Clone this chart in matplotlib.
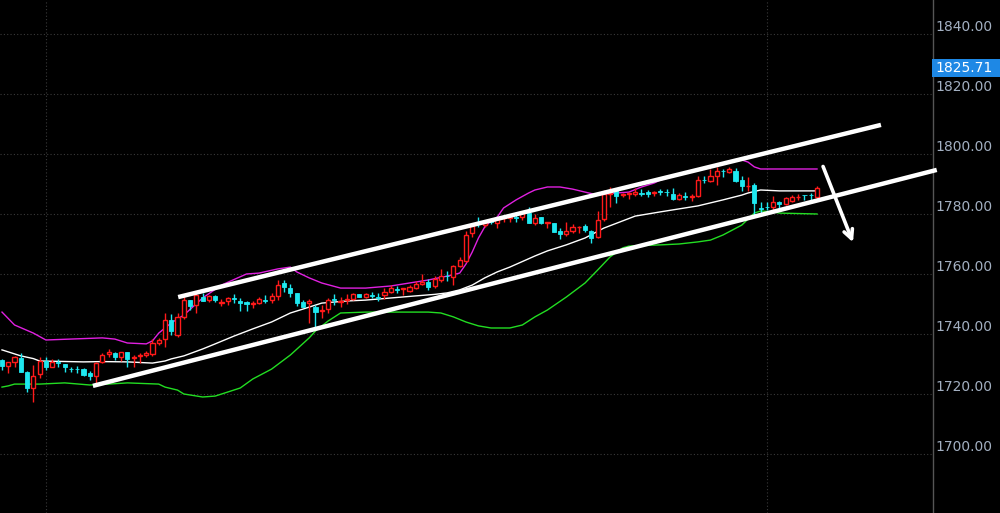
import numpy as np
import matplotlib
matplotlib.use('Agg')
import matplotlib.pyplot as plt
from matplotlib.patches import Rectangle
import matplotlib.transforms as mtransforms

# candle data (one entry per bar)
opens = [
    1731.4, 1729.4, 1730.7, 1732.1, 1727.4, 1722.1, 1726.8, 1731.1, 1729.1, 1730.8,
    1730.1, 1728.5, 1728.5, 1728.4, 1727.1, 1726.1, 1730.8, 1733.4, 1733.8, 1732.4,
    1734.1, 1732.1, 1732.7, 1733.1, 1733.4, 1737.1, 1738.4, 1744.8, 1739.8, 1745.8,
    1751.4, 1749.8, 1752.4, 1751.4, 1752.8, 1750.4, 1751.1, 1752.1, 1751.1, 1750.8,
    1750.1, 1750.4, 1751.4, 1751.4, 1752.8, 1757.1, 1755.4, 1753.8, 1750.8, 1750.4,
    1749.1, 1747.8, 1748.4, 1751.8, 1750.8, 1751.4, 1751.8, 1753.4, 1752.4, 1753.1,
    1752.4, 1753.1, 1754.1, 1755.1, 1755.1, 1754.4, 1755.4, 1756.8, 1757.4, 1756.1,
    1758.1, 1759.4, 1759.1, 1762.8, 1764.4, 1773.8, 1776.8, 1776.4, 1777.8, 1777.1,
    1778.9, 1778.8, 1779.1, 1779.1, 1780.4, 1777.1, 1779.1, 1777.1, 1777.1, 1774.4,
    1773.4, 1774.4, 1775.6, 1776.1, 1774.4, 1772.4, 1778.4, 1786.8, 1788.1, 1786.4,
    1786.8, 1786.8, 1787.1, 1787.4, 1787.1, 1787.6, 1787.4, 1786.8, 1785.1, 1786.1,
    1785.8, 1786.1, 1791.4, 1791.1, 1792.8, 1794.4, 1794.1, 1794.4, 1791.4, 1789.3,
    1789.8, 1782.1, 1782.4, 1782.4, 1784.1, 1783.4, 1784.4, 1785.6, 1786.4, 1786.4,
    1785.8]
closes = [
    1729.4, 1730.7, 1732.4, 1727.4, 1722.1, 1726.1, 1731.1, 1729.1, 1730.8, 1730.4,
    1729.1, 1728.3, 1728.3, 1726.4, 1726.1, 1730.4, 1733.1, 1734.1, 1732.4, 1734.1,
    1731.8, 1732.4, 1733.1, 1733.8, 1737.1, 1738.1, 1744.8, 1741.1, 1745.8, 1751.4,
    1749.4, 1753.1, 1751.1, 1752.8, 1751.4, 1750.8, 1752.1, 1751.8, 1750.4, 1750.2,
    1750.4, 1751.8, 1751.2, 1752.8, 1756.4, 1755.8, 1753.8, 1750.4, 1749.1, 1751.1,
    1747.4, 1748.1, 1751.4, 1751.4, 1751.1, 1751.8, 1753.4, 1752.4, 1753.4, 1752.9,
    1752.2, 1754.1, 1755.4, 1754.9, 1755.3, 1755.8, 1756.8, 1757.4, 1755.8, 1758.4,
    1759.4, 1759.3, 1762.8, 1764.8, 1773.1, 1776.1, 1776.6, 1777.1, 1777.4, 1778.4,
    1779.1, 1778.9, 1778.9, 1780.4, 1777.1, 1778.8, 1777.1, 1777.3, 1774.1, 1773.4,
    1774.4, 1775.8, 1775.8, 1774.8, 1772.1, 1778.1, 1786.8, 1787.1, 1786.1, 1786.8,
    1786.9, 1787.4, 1786.9, 1786.8, 1787.4, 1787.4, 1787.3, 1785.1, 1786.4, 1785.9,
    1785.9, 1791.4, 1791.3, 1792.8, 1794.4, 1794.3, 1795.1, 1791.1, 1789.4, 1789.4,
    1783.8, 1781.9, 1782.3, 1784.1, 1783.4, 1785.4, 1785.8, 1785.8, 1786.3, 1786.3,
    1788.8]
highs = [
    1731.6, 1730.7, 1732.7, 1733.8, 1727.8, 1729.8, 1732.4, 1732.4, 1731.8, 1731.8,
    1730.1, 1729.1, 1729.4, 1728.6, 1727.8, 1730.8, 1733.8, 1735.1, 1734.1, 1734.2,
    1734.2, 1733.1, 1733.8, 1734.4, 1738.4, 1738.8, 1747.1, 1746.8, 1747.1, 1753.1,
    1751.5, 1753.8, 1753.8, 1753.1, 1753.1, 1751.8, 1752.4, 1753.4, 1752.1, 1751.1,
    1751.1, 1752.4, 1753.1, 1753.8, 1758.1, 1758.1, 1756.8, 1753.8, 1751.4, 1751.8,
    1749.8, 1749.8, 1752.1, 1753.4, 1752.4, 1753.4, 1753.8, 1753.5, 1753.8, 1754.1,
    1753.8, 1755.4, 1756.4, 1756.1, 1755.4, 1756.4, 1757.8, 1760.1, 1758.4, 1759.4,
    1761.8, 1761.1, 1763.1, 1765.8, 1774.4, 1777.1, 1779.1, 1777.4, 1778.8, 1778.8,
    1779.8, 1779.4, 1780.4, 1780.5, 1782.4, 1780.1, 1779.2, 1777.4, 1777.2, 1775.4,
    1777.4, 1776.8, 1776.1, 1776.8, 1774.8, 1781.1, 1788.1, 1789.1, 1788.8, 1787.1,
    1787.4, 1788.8, 1788.4, 1788.1, 1787.8, 1788.4, 1788.4, 1788.8, 1787.1, 1787.4,
    1786.8, 1792.8, 1792.8, 1795.1, 1795.8, 1795.1, 1795.8, 1795.4, 1792.8, 1792.4,
    1790.4, 1784.1, 1784.1, 1786.1, 1784.4, 1785.8, 1786.4, 1786.8, 1786.4, 1787.1,
    1789.4]
lows = [
    1728.1, 1727.1, 1729.1, 1727.4, 1720.8, 1717.4, 1725.4, 1728.1, 1729.1, 1729.1,
    1727.4, 1727.4, 1727.1, 1726.2, 1724.8, 1723.8, 1730.4, 1732.4, 1731.4, 1731.1,
    1729.1, 1729.1, 1730.4, 1732.4, 1732.7, 1736.4, 1735.8, 1739.8, 1739.1, 1745.1,
    1748.1, 1747.1, 1751.0, 1750.8, 1750.8, 1749.4, 1749.8, 1750.4, 1747.8, 1747.8,
    1748.8, 1750.2, 1750.4, 1750.4, 1751.4, 1754.1, 1752.4, 1749.4, 1749.1, 1743.8,
    1742.1, 1745.4, 1747.1, 1749.8, 1749.1, 1750.1, 1751.4, 1752.3, 1752.1, 1752.1,
    1751.1, 1751.8, 1753.8, 1753.8, 1753.1, 1754.1, 1755.1, 1756.4, 1754.8, 1755.4,
    1757.4, 1757.8, 1756.4, 1762.4, 1764.1, 1772.4, 1775.8, 1775.8, 1776.8, 1775.4,
    1777.4, 1777.4, 1777.4, 1778.1, 1777.0, 1776.4, 1776.8, 1775.4, 1774.0, 1771.8,
    1772.8, 1773.8, 1773.8, 1774.1, 1770.4, 1772.1, 1777.8, 1782.4, 1783.8, 1785.8,
    1785.1, 1786.1, 1786.1, 1785.8, 1786.1, 1786.4, 1786.1, 1784.8, 1784.8, 1784.8,
    1784.4, 1785.8, 1790.4, 1790.8, 1789.8, 1792.4, 1793.8, 1790.8, 1787.8, 1787.8,
    1779.4, 1780.1, 1781.4, 1781.4, 1782.1, 1783.1, 1784.1, 1784.8, 1784.8, 1784.8,
    1785.4]

# bollinger bands (bar index, price)
upper_idx = [0, 2, 5, 7, 16, 18, 20, 23, 24, 25, 27, 29, 32, 35, 39, 41, 44, 46, 47, 49,
             51, 54, 58, 62, 65, 68, 71, 73, 74, 75, 76, 77, 78, 79, 80, 82, 84, 85, 87, 89,
             91, 93, 95, 96, 100, 102, 104, 105, 108, 111, 115, 118, 119, 120, 121, 130]
upper_val = [1747.4, 1743.1, 1740.4, 1738.1, 1738.8, 1738.4, 1737.1, 1736.8, 1737.8, 1740.4,
             1743.8, 1746.4, 1752.1, 1756.4, 1760.1, 1760.4, 1761.8, 1762.4, 1760.8, 1758.8,
             1757.1, 1755.4, 1755.4, 1756.1, 1757.1, 1758.1, 1759.4, 1760.4, 1763.4, 1767.4,
             1772.1, 1775.8, 1777.8, 1779.1, 1782.1, 1784.8, 1787.1, 1788.1, 1789.1, 1789.1,
             1788.4, 1787.4, 1786.4, 1786.8, 1787.4, 1789.1, 1790.4, 1791.4, 1793.1, 1794.8,
             1796.8, 1798.1, 1797.4, 1795.8, 1795.1, 1795.1]
mid_idx = [0, 3, 5, 6, 13, 16, 20, 24, 26, 27, 29, 32, 34, 37, 40, 43, 46, 48, 51, 55,
           58, 62, 66, 69, 71, 73, 75, 77, 79, 81, 85, 87, 90, 93, 96, 99, 101, 105, 108, 111,
           115, 118, 119, 121, 124, 130]
mid_val = [1734.8, 1732.8, 1731.9, 1731.1, 1730.8, 1730.9, 1730.8, 1730.4, 1731.1, 1731.8,
           1732.8, 1735.1, 1736.8, 1739.4, 1741.8, 1744.1, 1747.1, 1748.4, 1750.4, 1751.1,
           1751.4, 1752.1, 1752.8, 1753.3, 1753.8, 1754.8, 1756.4, 1758.8, 1760.8, 1762.4,
           1766.1, 1767.8, 1769.8, 1772.1, 1775.4, 1777.8, 1779.4, 1780.8, 1781.8, 1782.8,
           1784.8, 1786.4, 1787.1, 1788.1, 1787.8, 1787.8]
lower_idx = [0, 1, 2, 6, 10, 14, 17, 20, 25, 26, 28, 29, 32, 34, 38, 40, 43, 46, 49, 50,
             52, 54, 58, 68, 70, 72, 74, 76, 78, 81, 83, 85, 87, 90, 93, 95, 97, 99, 100, 105,
             108, 111, 113, 115, 118, 119, 120, 121, 123, 124, 130]
lower_val = [1722.4, 1722.8, 1723.4, 1723.4, 1723.8, 1723.1, 1723.4, 1723.8, 1723.4, 1722.4,
             1721.4, 1720.1, 1719.1, 1719.4, 1722.1, 1725.1, 1728.4, 1733.1, 1738.8, 1741.1,
             1744.4, 1747.1, 1747.4, 1747.4, 1747.1, 1745.8, 1744.1, 1742.8, 1742.1, 1742.1,
             1743.1, 1745.8, 1748.1, 1752.4, 1757.1, 1761.4, 1765.8, 1768.8, 1769.4, 1769.8,
             1770.1, 1770.8, 1771.4, 1773.1, 1776.4, 1778.4, 1780.4, 1781.1, 1780.8, 1780.4,
             1780.1]

# drawn channel lines and arrow (bar index, price)
chan_upper = [(28.1, 1752.4), (140.2, 1809.8)]
chan_lower = [(14.5, 1722.8), (149.1, 1794.8)]
arrow_from = (130.8, 1796.8)
arrow_to = (135.9, 1769.8)

yticks = [1700, 1720, 1740, 1760, 1780, 1800, 1820, 1840]
last_price = 1825.71
day_sep = [7, 122]

RED = '#ff1a1a'
CYAN = '#1ee8f0'
GRIDC = '#3a3a3a'

fig = plt.figure(figsize=(10, 5.13), dpi=100, facecolor='black')
ax = fig.add_axes([0, 0, 0.933, 1])
ax.set_facecolor('black')

x = np.arange(len(opens))
o = np.array(opens); c = np.array(closes)
h = np.array(highs); l = np.array(lows)
up = c >= o

# grid
for yv in yticks:
    ax.axhline(yv, color=GRIDC, lw=0.8, ls=(0, (1, 2)), zorder=0)
for xv in day_sep:
    ax.axvline(xv, color=GRIDC, lw=0.8, ls=(0, (1, 2)), zorder=0)

# bands
ax.plot(upper_idx, upper_val, color='#e020e0', lw=1.0, zorder=2, drawstyle='default')
ax.plot(mid_idx, mid_val, color='white', lw=1.0, zorder=2)
ax.plot(lower_idx, lower_val, color='#22dd22', lw=1.0, zorder=2)

# candles
w = 0.66
ax.vlines(x[up], l[up], h[up], color=RED, lw=1.0, zorder=3)
ax.vlines(x[~up], l[~up], h[~up], color=CYAN, lw=1.0, zorder=3)
body = np.maximum(np.abs(c - o), 0.2)
bottom = np.minimum(o, c)
ax.bar(x[up], body[up], bottom=bottom[up], width=w, facecolor='black',
       edgecolor=RED, lw=1.0, zorder=4)
ax.bar(x[~up], body[~up], bottom=bottom[~up], width=w, facecolor=CYAN,
       edgecolor=CYAN, lw=0.6, zorder=4)

# channel lines
for seg in (chan_upper, chan_lower):
    xs, ys = zip(*seg)
    ax.plot(xs, ys, color='white', lw=3.2, solid_capstyle='butt', zorder=5, clip_on=False)

ax.annotate('', xy=arrow_to, xytext=arrow_from,
            arrowprops=dict(arrowstyle='->', color='white', lw=2.6, mutation_scale=16),
            zorder=6)

ax.set_xlim(-0.32, 148.5)
ax.set_ylim(1680.43, 1851.43)
ax.set_xticks([])
ax.yaxis.tick_right()
ax.set_yticks(yticks)
ax.set_yticklabels(['%.2f' % v for v in yticks])
ax.tick_params(axis='y', length=0, pad=2, labelsize=10, labelcolor='#a3b0c2')
for lbl in ax.get_yticklabels():
    lbl.set_va('bottom')
for s in ['top', 'left', 'bottom']:
    ax.spines[s].set_visible(False)
ax.spines['right'].set_color('#555555')
ax.spines['right'].set_linewidth(1.0)

# last price tag
tr = mtransforms.blended_transform_factory(fig.transFigure, ax.transData)
fig.patches.append(Rectangle((0.932, last_price), 0.068, 6.0, transform=tr,
                             facecolor='#1e88e5', edgecolor='none', zorder=10))
fig.text(0.9355, last_price + 3.0, '%.2f' % last_price, transform=tr, color='white',
         fontsize=10, va='center', ha='left', zorder=11)

fig.savefig('out.png', dpi=100, facecolor='black')
